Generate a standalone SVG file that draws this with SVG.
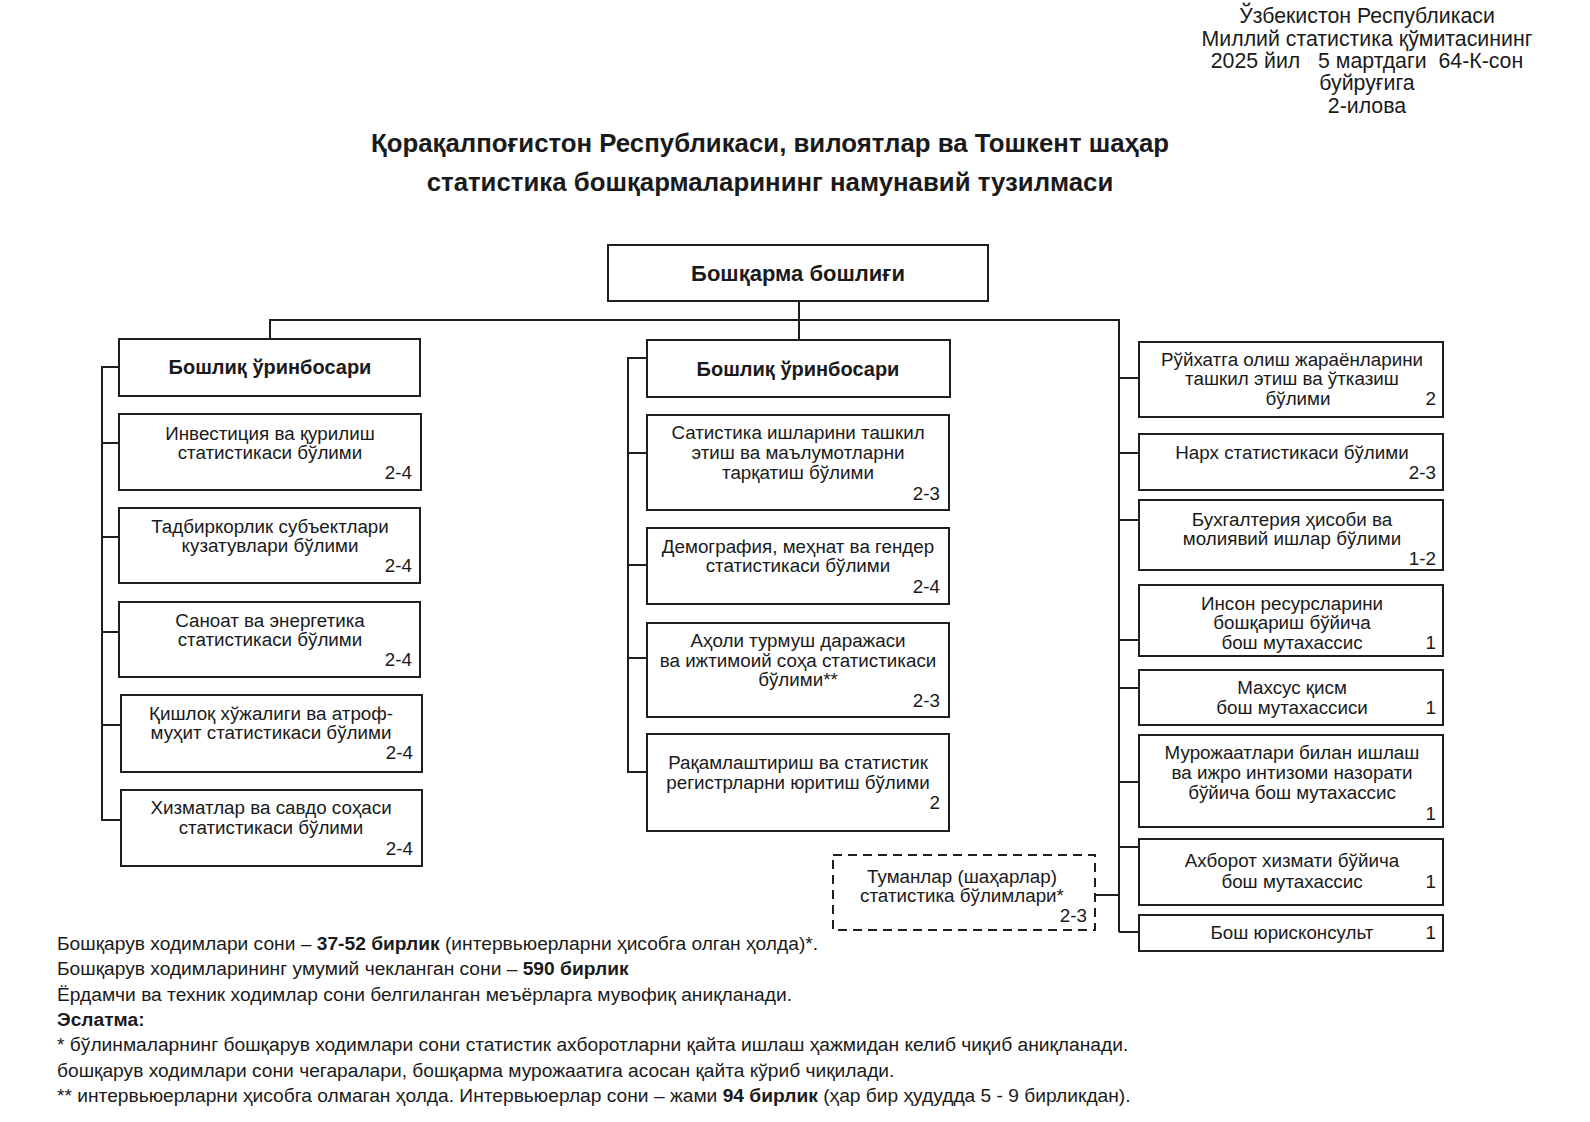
<svg xmlns="http://www.w3.org/2000/svg" width="1590" height="1122" viewBox="0 0 1590 1122">
<style>
.bx{fill:#fff;stroke:#1e1e1e;stroke-width:2}
.ds{fill:#fff;stroke:#1e1e1e;stroke-width:2;stroke-dasharray:9 6}
.ln{fill:none;stroke:#1e1e1e;stroke-width:2}
text{font-family:"Liberation Sans",Arial,sans-serif;fill:#1a1a1a}
.t{font-size:18.8px;text-anchor:middle}
.n{font-size:18.8px;text-anchor:end}
.h{font-size:20px;font-weight:bold;text-anchor:middle}
.hh{font-size:22px;font-weight:bold;text-anchor:middle}
.hd{font-size:21.3px;text-anchor:middle;white-space:pre}
.ti{font-size:25.8px;font-weight:bold;text-anchor:middle}
.nt{font-size:19.2px}
.bd{font-weight:bold}
</style>
<rect width="1590" height="1122" fill="#fff"/>
<g id="header">
<text class="hd" x="1367" y="23">Ўзбекистон Республикаси</text>
<text class="hd" x="1367" y="46">Миллий статистика қўмитасининг</text>
<text class="hd" x="1367" y="68" xml:space="preserve">2025 йил   5 мартдаги  64-К-сон</text>
<text class="hd" x="1367" y="90">буйруғига</text>
<text class="hd" x="1367" y="113">2-илова</text>
</g>
<g id="title">
<text class="ti" x="770" y="152">Қорақалпоғистон Республикаси, вилоятлар ва Тошкент шаҳар</text>
<text class="ti" x="770" y="191">статистика бошқармаларининг намунавий тузилмаси</text>
</g>
<g id="connectors">
<path class="ln" d="M799 301V340M270 339V320H1119V932"/>
<path class="ln" d="M119 367H102V820H121M102 443H119M102 537H119M102 632H119M102 725H121"/>
<path class="ln" d="M647 358H628V772H647M628 453H647M628 565H647M628 658H647"/>
<path class="ln" d="M1119 378H1139M1119 453H1139M1119 520H1139M1119 640H1139M1119 688H1139M1119 782H1139M1119 847H1139M1119 932H1139M1095 895H1119"/>
</g>
<g id="head">
<rect class="bx" x="608" y="245" width="380" height="56"/>
<text class="hh" x="798" y="281">Бошқарма бошлиғи</text>
</g>
<g id="dep-left">
<rect class="bx" x="119" y="339" width="301" height="57"/>
<text class="h" x="270" y="374">Бошлиқ ўринбосари</text>
</g>
<g id="l1">
<rect class="bx" x="119" y="414" width="302" height="76"/>
<text class="t" x="270" y="440">Инвестиция ва қурилиш</text>
<text class="t" x="270" y="459">статистикаси бўлими</text>
<text class="n" x="412" y="479">2-4</text>
</g>
<g id="l2">
<rect class="bx" x="119" y="508" width="301" height="75"/>
<text class="t" x="270" y="533">Тадбиркорлик субъектлари</text>
<text class="t" x="270" y="552">кузатувлари бўлими</text>
<text class="n" x="412" y="572">2-4</text>
</g>
<g id="l3">
<rect class="bx" x="119" y="602" width="301" height="75"/>
<text class="t" x="270" y="627">Саноат ва энергетика</text>
<text class="t" x="270" y="646">статистикаси бўлими</text>
<text class="n" x="412" y="666">2-4</text>
</g>
<g id="l4">
<rect class="bx" x="121" y="695" width="301" height="77"/>
<text class="t" x="271" y="720">Қишлоқ хўжалиги ва атроф-</text>
<text class="t" x="271" y="739">муҳит статистикаси бўлими</text>
<text class="n" x="413" y="759">2-4</text>
</g>
<g id="l5">
<rect class="bx" x="121" y="790" width="301" height="76"/>
<text class="t" x="271" y="814">Хизматлар ва савдо соҳаси</text>
<text class="t" x="271" y="834">статистикаси бўлими</text>
<text class="n" x="413" y="855">2-4</text>
</g>
<g id="dep-mid">
<rect class="bx" x="647" y="340" width="303" height="57"/>
<text class="h" x="798" y="376">Бошлиқ ўринбосари</text>
</g>
<g id="m1">
<rect class="bx" x="647" y="415" width="302" height="95"/>
<text class="t" x="798" y="439">Сатистика ишларини ташкил</text>
<text class="t" x="798" y="459">этиш ва маълумотларни</text>
<text class="t" x="798" y="479">тарқатиш бўлими</text>
<text class="n" x="940" y="500">2-3</text>
</g>
<g id="m2">
<rect class="bx" x="647" y="528" width="302" height="76"/>
<text class="t" x="798" y="553">Демография, меҳнат ва гендер</text>
<text class="t" x="798" y="572">статистикаси бўлими</text>
<text class="n" x="940" y="593">2-4</text>
</g>
<g id="m3">
<rect class="bx" x="647" y="623" width="302" height="94"/>
<text class="t" x="798" y="647">Аҳоли турмуш даражаси</text>
<text class="t" x="798" y="667">ва ижтимоий соҳа статистикаси</text>
<text class="t" x="798" y="686">бўлими**</text>
<text class="n" x="940" y="707">2-3</text>
</g>
<g id="m4">
<rect class="bx" x="647" y="734" width="302" height="97"/>
<text class="t" x="798" y="769">Рақамлаштириш ва статистик</text>
<text class="t" x="798" y="789">регистрларни юритиш бўлими</text>
<text class="n" x="940" y="809">2</text>
</g>
<g id="districts">
<rect class="ds" x="833" y="855" width="262" height="75"/>
<text class="t" x="962" y="883">Туманлар (шаҳарлар)</text>
<text class="t" x="962" y="902">статистика бўлимлари*</text>
<text class="n" x="1087" y="922">2-3</text>
</g>
<g id="r1">
<rect class="bx" x="1139" y="342" width="304" height="75"/>
<text class="t" x="1292" y="366">Рўйхатга олиш жараёнларини</text>
<text class="t" x="1292" y="385">ташкил этиш ва ўтказиш</text>
<text class="t" x="1298" y="405">бўлими</text>
<text class="n" x="1436" y="405">2</text>
</g>
<g id="r2">
<rect class="bx" x="1139" y="434" width="304" height="56"/>
<text class="t" x="1292" y="459">Нарх статистикаси бўлими</text>
<text class="n" x="1436" y="479">2-3</text>
</g>
<g id="r3">
<rect class="bx" x="1139" y="500" width="304" height="70"/>
<text class="t" x="1292" y="526">Бухгалтерия ҳисоби ва</text>
<text class="t" x="1292" y="545">молиявий ишлар бўлими</text>
<text class="n" x="1436" y="565">1-2</text>
</g>
<g id="r4">
<rect class="bx" x="1139" y="585" width="304" height="71"/>
<text class="t" x="1292" y="610">Инсон ресурсларини</text>
<text class="t" x="1292" y="629">бошқариш бўйича</text>
<text class="t" x="1292" y="649">бош мутахассис</text>
<text class="n" x="1436" y="649">1</text>
</g>
<g id="r5">
<rect class="bx" x="1139" y="670" width="304" height="55"/>
<text class="t" x="1292" y="694">Махсус қисм</text>
<text class="t" x="1292" y="714">бош мутахассиси</text>
<text class="n" x="1436" y="714">1</text>
</g>
<g id="r6">
<rect class="bx" x="1139" y="735" width="304" height="92"/>
<text class="t" x="1292" y="759">Мурожаатлари билан ишлаш</text>
<text class="t" x="1292" y="779">ва ижро интизоми назорати</text>
<text class="t" x="1292" y="799">бўйича бош мутахассис</text>
<text class="n" x="1436" y="820">1</text>
</g>
<g id="r7">
<rect class="bx" x="1139" y="839" width="304" height="66"/>
<text class="t" x="1292" y="867">Ахборот хизмати бўйича</text>
<text class="t" x="1292" y="888">бош мутахассис</text>
<text class="n" x="1436" y="888">1</text>
</g>
<g id="r8">
<rect class="bx" x="1139" y="915" width="304" height="36"/>
<text class="t" x="1292" y="939">Бош юрисконсульт</text>
<text class="n" x="1436" y="939">1</text>
</g>
<g id="notes" class="nt">
<text x="57" y="950">Бошқарув ходимлари сони – <tspan class="bd">37-52 бирлик</tspan> (интервьюерларни ҳисобга олган ҳолда)*.</text>
<text x="57" y="975">Бошқарув ходимларининг умумий чекланган сони – <tspan class="bd">590 бирлик</tspan></text>
<text x="57" y="1001">Ёрдамчи ва техник ходимлар сони белгиланган меъёрларга мувофиқ аниқланади.</text>
<text x="57" y="1026" class="bd">Эслатма:</text>
<text x="57" y="1051">* бўлинмаларнинг бошқарув ходимлари сони статистик ахборотларни қайта ишлаш ҳажмидан келиб чиқиб аниқланади.</text>
<text x="57" y="1077">бошқарув ходимлари сони чегаралари, бошқарма мурожаатига асосан қайта кўриб чиқилади.</text>
<text x="57" y="1102">** интервьюерларни ҳисобга олмаган ҳолда. Интервьюерлар сони – жами <tspan class="bd">94 бирлик</tspan> (ҳар бир ҳудудда 5 - 9 бирликдан).</text>
</g>
</svg>
